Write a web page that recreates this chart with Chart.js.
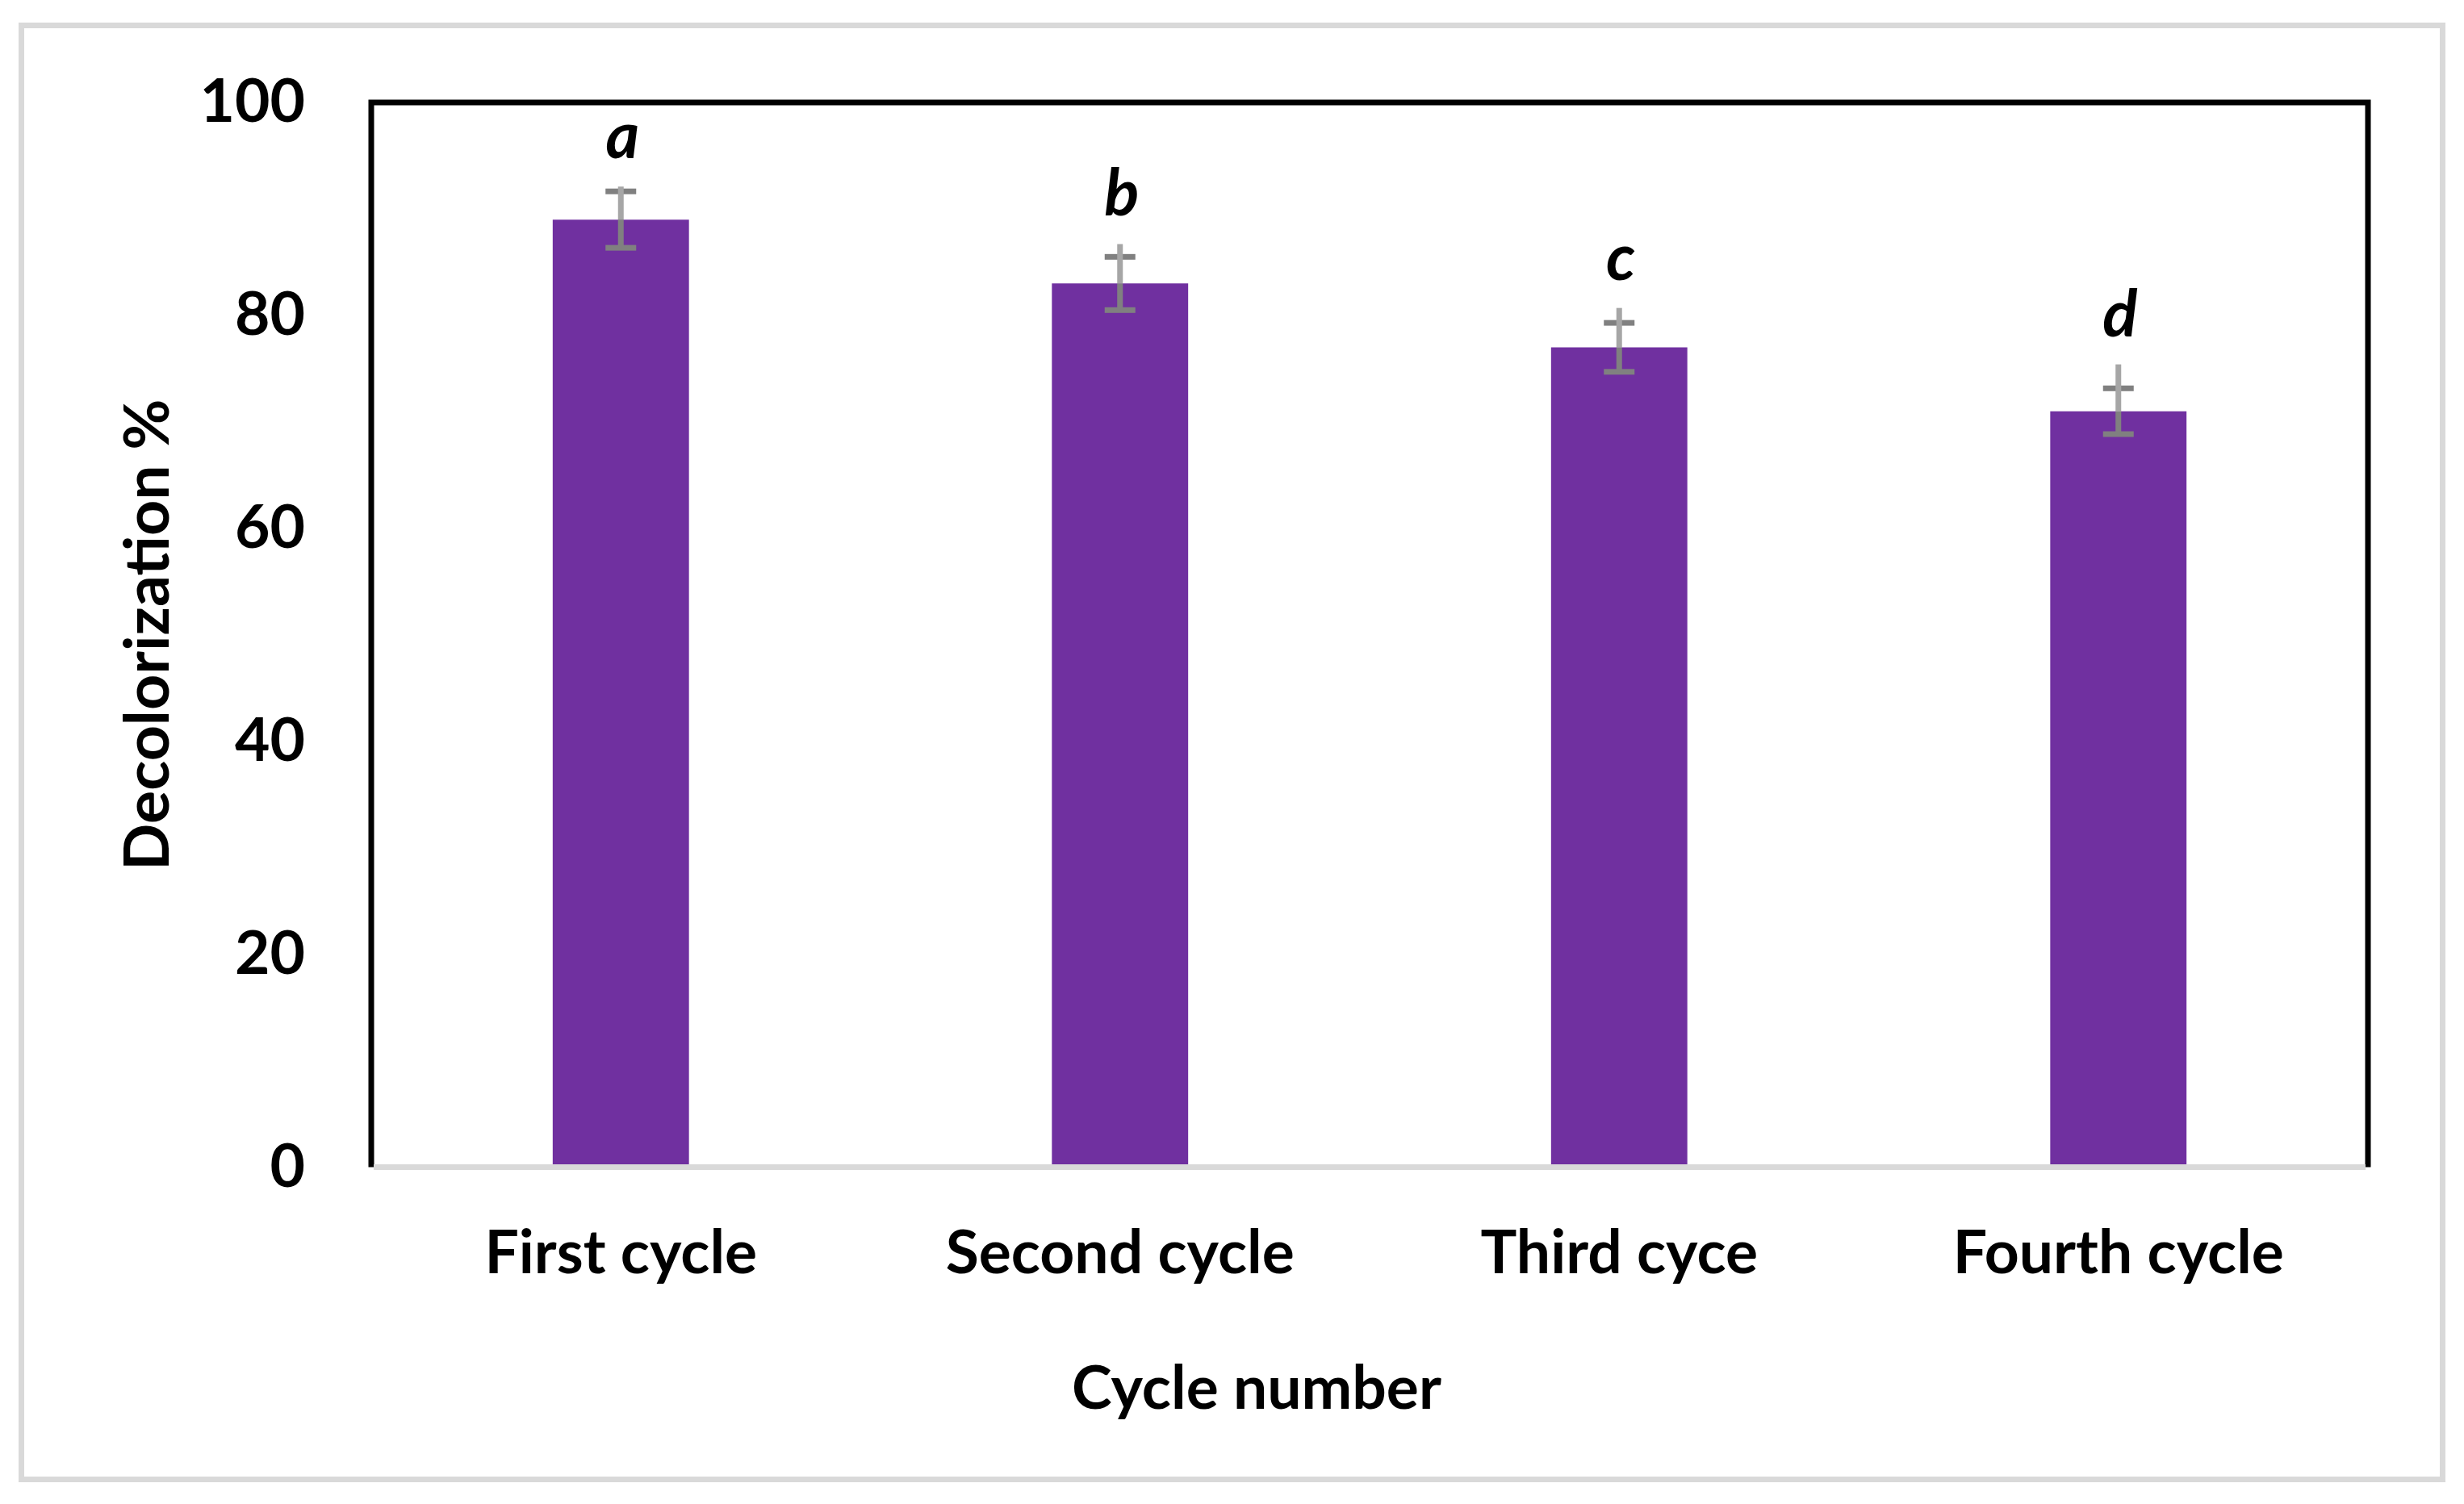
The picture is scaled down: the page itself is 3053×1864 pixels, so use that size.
<!DOCTYPE html>
<html>
<head>
<meta charset="utf-8">
<script src="https://cdn.jsdelivr.net/npm/chart.js@4/dist/chart.umd.min.js"></script>
<style>
  html, body { margin: 0; padding: 0; background: #ffffff; }
  canvas { display: block; }
</style>
</head>
<body>
<canvas id="c" width="3053" height="1864"></canvas>
<script>
// ---- data ----
const categories = ['First cycle', 'Second cycle', 'Third cyce', 'Fourth cycle'];
const decolorization = [89, 83, 77, 71];
const errorBar = [2.65, 2.5, 2.3, 2.15];          // +/- error (capped)
const errorLineUp = [3.1, 3.7, 3.7, 4.4];         // upper extent of the vertical error line
const groupLetters = ['a', 'b', 'c', 'd'];
const yTicks = [0, 20, 40, 60, 80, 100];

const FONT = 'Lato';
const barColor = '#7030A0';

const errorPlugin = {
  id: 'errorBars',
  afterDatasetsDraw(chart) {
    const ctx = chart.ctx;
    const meta = chart.getDatasetMeta(0);
    const y = chart.scales.y;
    ctx.save();
    meta.data.forEach((bar, i) => {
      const x = bar.x;
      const v = decolorization[i];
      const pV = y.getPixelForValue(v);
      const pHi = y.getPixelForValue(v + errorBar[i]);
      const pLo = y.getPixelForValue(v - errorBar[i]);
      const pTop = y.getPixelForValue(v + errorLineUp[i]);
      const capW = 38, lw = 7;
      ctx.fillStyle = '#808080';
      ctx.fillRect(x - lw / 2, pV, lw, pLo - pV);
      ctx.fillRect(x - capW / 2, pHi - lw / 2, capW, lw);
      ctx.fillRect(x - capW / 2, pLo - lw / 2, capW, lw);
      ctx.fillStyle = '#A6A6A6';
      ctx.fillRect(x - lw / 2, pTop, lw, pV - pTop);
      ctx.fillStyle = '#000000';
      ctx.font = 'italic bold 80px ' + FONT;
      ctx.textAlign = 'center';
      ctx.textBaseline = 'alphabetic';
      ctx.fillText(groupLetters[i], x + 2, pTop - 35);
    });
    ctx.restore();
  },
  afterDraw(chart) {
    const ctx = chart.ctx;
    const a = chart.chartArea;
    ctx.save();
    ctx.strokeStyle = '#000000';
    ctx.lineWidth = 7;
    ctx.beginPath();
    ctx.moveTo(a.left, a.bottom);
    ctx.lineTo(a.left, a.top);
    ctx.lineTo(a.right, a.top);
    ctx.lineTo(a.right, a.bottom);
    ctx.stroke();
    ctx.strokeStyle = '#D9D9D9';
    ctx.beginPath();
    ctx.moveTo(a.left + 3, a.bottom);
    ctx.lineTo(a.right - 3, a.bottom);
    ctx.stroke();
    ctx.lineWidth = 7;
    ctx.strokeRect(26.5, 31.5, 3000, 1802);
    ctx.restore();
  }
};

function build() {
  new Chart(document.getElementById('c'), {
    type: 'bar',
    data: {
      labels: categories,
      datasets: [{
        data: decolorization,
        backgroundColor: barColor,
        borderWidth: 0,
        categoryPercentage: 1,
        barPercentage: 0.273
      }]
    },
    options: {
      responsive: false,
      devicePixelRatio: 1,
      animation: false,
      layout: { padding: { left: 61, right: 0, top: 123.5, bottom: 0 } },
      plugins: {
        legend: { display: false },
        tooltip: { enabled: false },
        title: {
          display: true,
          text: 'Cycle number',
          position: 'bottom',
          color: '#000000',
          font: { family: FONT, size: 75, weight: 'bold', lineHeight: 1.2 },
          padding: { top: 0, bottom: 97 }
        }
      },
      scales: {
        x: {
          grid: { display: false, drawTicks: false },
          border: { display: false },
          ticks: {
            color: '#000000',
            font: { family: FONT, size: 75, weight: 'bold' },
            padding: 62,
            maxRotation: 0,
            autoSkip: false
          },
          afterFit(s) { s.height = 230.5; }
        },
        y: {
          min: 0,
          max: 100,
          grid: { display: false, drawTicks: false },
          border: { display: false },
          afterBuildTicks(s) { s.ticks = yTicks.map(v => ({ value: v })); },
          ticks: {
            color: '#000000',
            font: { family: FONT, size: 75, weight: 'bold' },
            padding: 82
          },
          title: {
            display: true,
            text: 'Decolorization %',
            color: '#000000',
            font: { family: FONT, size: 77, weight: 'bold', lineHeight: 1.2 },
            padding: { top: 77, bottom: 0 }
          },
          afterFit(s) { s.width = 399; }
        },
        y2: {
          position: 'right',
          display: true,
          grid: { display: false, drawTicks: false },
          border: { display: false },
          ticks: { display: false },
          afterFit(s) { s.width = 119; }
        }
      }
    },
    plugins: [errorPlugin]
  });
}

if (document.fonts && document.fonts.load) {
  Promise.all([
    document.fonts.load('bold 75px Lato'),
    document.fonts.load('italic bold 80px Lato')
  ]).then(build, build);
} else {
  build();
}
</script>
</body>
</html>
